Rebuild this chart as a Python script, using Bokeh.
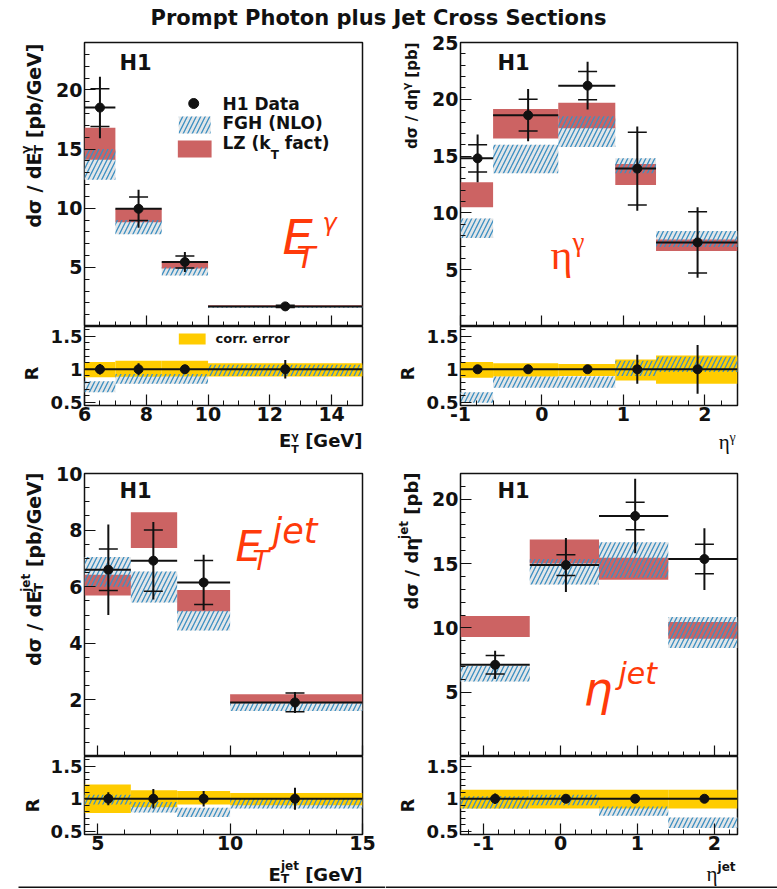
import math
import numpy as np
from bokeh.plotting import figure
from bokeh.models import (Range1d, LinearAxis, FixedTicker, Label, Span, ColumnDataSource,
                          CustomLabelingPolicy, BoxAnnotation)
from bokeh.layouts import column, row
from bokeh.embed import file_html
from bokeh.resources import INLINE

FONT = "DejaVu Sans"
SERIF = "Liberation Serif"
INK = "#111111"
LZ_FILL = "#cc6363"
FGH_LINE = "#3b8fc2"
FGH_BG = "#e3e6e8"
CORR_FILL = "#ffcc00"
TAG_RED = "#ff3a0a"

# ---------------- E_T^gamma ----------------
etg_edges = [6.0, 7.0, 8.5, 10.0, 15.0]
etg_x = [6.5, 7.75, 9.25, 12.5]
etg_val = [18.5, 9.95, 5.45, 1.7]
etg_stat = [1.6, 1.0, 0.5, 0.1]
etg_tot = [2.6, 1.6, 0.85, 0.18]
etg_fgh_lo = [12.4, 7.8, 4.3, 1.58]
etg_fgh_hi = [15.0, 9.0, 5.0, 1.72]
etg_lz_lo = [14.1, 8.8, 4.9, 1.65]
etg_lz_hi = [16.8, 9.95, 5.4, 1.8]
etg_r_corr_lo = [0.88, 0.885, 0.89, 0.89]
etg_r_corr_hi = [1.11, 1.13, 1.13, 1.09]
etg_r_fgh_lo = [0.65, 0.78, 0.78, 0.9]
etg_r_fgh_hi = [0.82, 0.93, 0.93, 1.07]
etg_r_err = [0.08, 0.09, 0.07, 0.14]

# ---------------- eta^gamma ----------------
etag_edges = [-1.0, -0.6, 0.2, 0.9, 1.4, 2.4]
etag_x = [-0.79, -0.17, 0.56, 1.17, 1.91]
etag_val = [14.8, 18.6, 21.2, 13.9, 7.4]
etag_stat = [1.2, 1.4, 1.25, 3.2, 2.7]
etag_tot = [2.1, 2.3, 2.1, 3.7, 3.1]
etag_fgh_lo = [7.8, 13.5, 15.8, 13.5, 7.0]
etag_fgh_hi = [9.5, 16.0, 18.5, 14.8, 8.4]
etag_lz_lo = [10.5, 16.55, 17.45, 12.45, 6.65]
etag_lz_hi = [12.7, 19.15, 19.7, 14.3, 7.65]
etag_r_corr_lo = [0.87, 0.89, 0.9, 0.83, 0.78]
etag_r_corr_hi = [1.11, 1.09, 1.08, 1.15, 1.21]
etag_r_fgh_lo = [0.49, 0.72, 0.72, 0.9, 0.96]
etag_r_fgh_hi = [0.65, 0.89, 0.89, 1.13, 1.19]
etag_r_err = [0.06, 0.06, 0.03, 0.22, 0.37]

# ---------------- E_T^jet ----------------
etj_edges = [4.5, 6.25, 8.0, 10.0, 15.0]
etj_x = [5.4, 7.1, 9.0, 12.45]
etj_val = [6.6, 6.92, 6.15, 1.91]
etj_stat = [0.73, 1.08, 0.78, 0.33]
etj_tot = [1.6, 1.37, 0.98, 0.37]
etj_fgh_lo = [6.0, 5.44, 4.45, 1.61]
etj_fgh_hi = [7.05, 6.54, 5.15, 1.88]
etj_lz_lo = [5.69, 7.37, 5.13, 1.88]
etj_lz_hi = [6.42, 8.63, 5.88, 2.2]
etj_r_corr_lo = [0.78, 0.87, 0.91, 0.9]
etj_r_corr_hi = [1.22, 1.13, 1.12, 1.09]
etj_r_fgh_lo = [0.91, 0.79, 0.72, 0.85]
etj_r_fgh_hi = [1.06, 0.95, 0.86, 1.0]
etj_r_err = [0.1, 0.15, 0.12, 0.17]

# ---------------- eta^jet ----------------
etaj_edges = [-1.3, -0.4, 0.5, 1.4, 2.3]
etaj_x = [-0.85, 0.07, 0.97, 1.87]
etaj_val = [7.13, 14.88, 18.7, 15.35]
etaj_stat = [0.72, 0.8, 1.07, 1.15]
etaj_tot = [1.1, 2.1, 2.9, 2.4]
etaj_fgh_lo = [5.84, 13.37, 13.9, 8.43]
etaj_fgh_hi = [7.05, 15.35, 16.65, 10.85]
etaj_lz_lo = [9.29, 15.0, 13.75, 9.16]
etaj_lz_hi = [10.93, 16.87, 15.45, 10.46]
etaj_r_corr_lo = [0.85, 0.85, 0.85, 0.85]
etaj_r_corr_hi = [1.14, 1.14, 1.14, 1.14]
etaj_r_fgh_lo = [0.85, 0.9, 0.74, 0.55]
etaj_r_fgh_hi = [1.04, 1.06, 0.88, 0.71]
etaj_r_err = [0.08, 0.03, 0.02, 0.03]

# approximate advance widths (em) used to chain sub/superscript pieces
BOLD_W = {' ': .348, '[': .457, ']': .457, '(': .457, ')': .457, '/': .365, '.': .380,
          'a': .675, 'b': .716, 'c': .593, 'd': .716, 'e': .678, 'f': .435, 'j': .343,
          'k': .665, 'n': .712, 'o': .687, 'p': .716, 'r': .493, 't': .478, 's': .595,
          'l': .343, 'i': .343, 'D': .830, 'E': .683, 'F': .683, 'G': .821, 'H': .837,
          'L': .637, 'N': .837, 'O': .850, 'R': .770, 'T': .682, 'V': .774, 'Z': .725,
          '1': .696, 'σ': .716, 'η': .712, 'γ': .652}
SERIF_W = {'η': .52, 'γ': .42}
MID = 0.35  # distance from baseline to the text's middle line, in em


def tw(s, size, font=FONT):
    table = SERIF_W if font == SERIF else BOLD_W
    return sum(table.get(c, .62) for c in s) * size


def ticks(a, b, step):
    return [round(v, 6) for v in np.arange(a, b + step / 2, step)]


HIDE_LABELS = CustomLabelingPolicy(code="for (const i of indices) { indices.unset(i) }\nreturn indices")


def style_axis(ax, show_labels=True, standoff=2, size=19):
    ax.axis_line_color = None
    ax.major_tick_in = 11
    ax.major_tick_out = 0
    ax.minor_tick_in = 5
    ax.minor_tick_out = 0
    ax.major_tick_line_color = INK
    ax.minor_tick_line_color = INK
    ax.major_tick_line_width = 1.2
    ax.minor_tick_line_width = 1
    ax.major_label_text_font = FONT
    ax.major_label_text_font_style = "bold"
    ax.major_label_text_color = INK
    if show_labels:
        ax.major_label_text_font_size = f"{size}px"
        ax.major_label_standoff = standoff
    else:
        ax.major_label_text_font_size = "0px"
        ax.major_label_standoff = 0
        ax.major_label_policy = HIDE_LABELS


def bare(width, height):
    f = figure(width=width, height=height, x_range=Range1d(0, width), y_range=Range1d(0, height),
               x_axis_type=None, y_axis_type=None, output_backend="svg",
               toolbar_location=None, min_border=0)
    f.outline_line_color = None
    return f


def panel(width, height, borders, xr, yr, xt, yt, x_labels, ylab_size=19):
    left, right, top, bottom = borders
    p = figure(width=width, height=height, x_range=Range1d(*xr), y_range=Range1d(*yr),
               x_axis_type=None, y_axis_type=None, output_backend="svg",
               toolbar_location=None, min_border_left=left, min_border_right=right,
               min_border_top=top, min_border_bottom=bottom)
    p.outline_line_color = INK
    p.outline_line_width = 1.5
    p.border_fill_color = "white"
    xa = LinearAxis(ticker=FixedTicker(ticks=xt[0], minor_ticks=xt[1]))
    style_axis(xa, show_labels=x_labels, standoff=1)
    xa.major_label_overrides = {t: f"{t:g}" for t in xt[0]}
    p.add_layout(xa, "below")
    ya = LinearAxis(ticker=FixedTicker(ticks=yt[0], minor_ticks=yt[1]))
    style_axis(ya, standoff=2, size=ylab_size)
    ya.major_label_overrides = {t: f"{t:g}" for t in yt[0]}
    p.add_layout(ya, "left")
    return p


def tag(p, text, px, py, size, color=INK, style="bold", font=FONT, rot=False,
        align="left", mid=False):
    """Text at (px, py) pixels from the frame's top-left corner; (px, py) is on the
    baseline unless mid=True."""
    if not mid:
        if rot:
            px -= MID * size
        else:
            py -= MID * size
    p.add_layout(Label(x=p.x_range.start, y=p.y_range.end, x_offset=px, y_offset=-py,
                       text=text, text_font=font, text_font_size=f"{size:g}px",
                       text_font_style=style, text_color=color,
                       angle=math.pi / 2 if rot else 0.0,
                       text_align=align, text_baseline="middle"))


def piece(t, size, rise=0, font=FONT, style="bold"):
    return (t, size, rise, font, style)


def _advances(groups):
    return [max(tw(t, s, f) for t, s, r, f, st in g) for g in groups]


def htitle(p, groups, right_px, base_py):
    adv = _advances(groups)
    pos = right_px - sum(adv)
    for g, a in zip(groups, adv):
        for t, s, r, f, st in g:
            lead = tw(t[:len(t) - len(t.lstrip())], s, f)
            tag(p, t.strip(), pos + lead, base_py - r, s, style=st, font=f)
        pos += a


def vtitle(p, groups, base_px, top_py):
    adv = _advances(groups)
    pos = top_py + sum(adv)
    for g, a in zip(groups, adv):
        for t, s, r, f, st in g:
            lead = tw(t[:len(t) - len(t.lstrip())], s, f)
            tag(p, t.strip(), base_px - r, pos - lead, s, style=st, font=f, rot=True)
        pos -= a


def to_data(p, px, py, fw, fh):
    xr, yr = p.x_range, p.y_range
    return (xr.start + px / fw * (xr.end - xr.start), yr.end - py / fh * (yr.end - yr.start))


def draw_main(p, edges, xc, val, stat, tot, fgh_lo, fgh_hi, lz_lo, lz_hi):
    src = ColumnDataSource(dict(
        left=edges[:-1], right=edges[1:], x=xc, y=val,
        fl=fgh_lo, fh=fgh_hi, ll=lz_lo, lh=lz_hi,
        tlo=[v - e for v, e in zip(val, tot)], thi=[v + e for v, e in zip(val, tot)],
        slo=[v - e for v, e in zip(val, stat)], shi=[v + e for v, e in zip(val, stat)]))
    p.quad(left="left", right="right", bottom="fl", top="fh", source=src,
           fill_color=FGH_BG, line_color=None)
    p.quad(left="left", right="right", bottom="ll", top="lh", source=src,
           fill_color=LZ_FILL, line_color=None)
    p.quad(left="left", right="right", bottom="fl", top="fh", source=src,
           fill_alpha=0, line_color=None, hatch_pattern="/", hatch_color=FGH_LINE,
           hatch_scale=9, hatch_weight=1.3)
    p.segment(x0="left", x1="right", y0="y", y1="y", source=src, line_color=INK, line_width=2)
    p.segment(x0="x", x1="x", y0="tlo", y1="thi", source=src, line_color=INK, line_width=2)
    p.scatter(x="x", y="slo", source=src, marker="dash", size=19, line_color=INK, line_width=1.5)
    p.scatter(x="x", y="shi", source=src, marker="dash", size=19, line_color=INK, line_width=1.5)
    p.scatter(x="x", y="y", source=src, size=9, fill_color=INK, line_color=INK)


def draw_ratio(p, edges, xc, corr_lo, corr_hi, fgh_lo, fgh_hi, err):
    src = ColumnDataSource(dict(
        left=edges[:-1], right=edges[1:], x=xc, one=[1.0] * len(xc),
        cl=corr_lo, ch=corr_hi, fl=fgh_lo, fh=fgh_hi,
        elo=[1 - e for e in err], ehi=[1 + e for e in err]))
    p.quad(left="left", right="right", bottom="fl", top="fh", source=src,
           fill_color=FGH_BG, line_color=None)
    p.quad(left="left", right="right", bottom="cl", top="ch", source=src,
           fill_color=CORR_FILL, line_color=None)
    p.quad(left="left", right="right", bottom="fl", top="fh", source=src,
           fill_alpha=0, line_color=None, hatch_pattern="/", hatch_color=FGH_LINE,
           hatch_scale=9, hatch_weight=1.3)
    p.add_layout(Span(location=1.0, dimension="width", line_color=INK, line_width=2))
    p.segment(x0="x", x1="x", y0="elo", y1="ehi", source=src, line_color=INK, line_width=2)
    p.scatter(x="x", y="one", source=src, size=9, fill_color=INK, line_color=INK)


# ---- geometry (pixels) ----
LCOL, RCOL = 385, 392
LSTRIP, RSTRIP = 47, 38
LPW, RPW = LCOL - LSTRIP, RCOL - RSTRIP
LB, RB = (35, 23), (35, 40)
LFW, RFW = 280, 279
TM_H, TM_FH = 296, 284
TR_H, TR_FH = 103, 79
BM_H, BM_FH = 295, 283
BR_H, BR_FH = 102, 78
TX_H, BX_H = 32, 30

ratio_yt = ([0.5, 1.0, 1.5], ticks(0.5, 1.6, 0.1))
ratio_yr = (0.45, 1.65)

# ---- top-left: E_T^gamma ----
xt = ([6, 8, 10, 12, 14], ticks(6, 15, 0.5))
p1 = panel(LPW, TM_H, (LB[0], LB[1], 12, 0), (6, 15), (0, 24), xt,
           ([5, 10, 15, 20], ticks(1, 23, 1)), False)
draw_main(p1, etg_edges, etg_x, etg_val, etg_stat, etg_tot, etg_fgh_lo, etg_fgh_hi,
          etg_lz_lo, etg_lz_hi)
tag(p1, "H1", 35, 28, 21)
# legend
dx, dy = to_data(p1, 110, 61, LFW, TM_FH)
p1.scatter(x=[dx], y=[dy], size=10, fill_color=INK, line_color=INK)
fx0, fy0 = to_data(p1, 95, 74, LFW, TM_FH)
fx1, fy1 = to_data(p1, 127, 91, LFW, TM_FH)
p1.quad(left=[fx0], right=[fx1], top=[fy0], bottom=[fy1], fill_color=FGH_BG, line_color=None,
        hatch_pattern="/", hatch_color=FGH_LINE, hatch_scale=9, hatch_weight=1.3)
rx0, ry0 = to_data(p1, 94, 98, LFW, TM_FH)
rx1, ry1 = to_data(p1, 128, 115, LFW, TM_FH)
p1.quad(left=[rx0], right=[rx1], top=[ry0], bottom=[ry1], fill_color=LZ_FILL, line_color=None)
tag(p1, "H1 Data", 138, 61.5, 17, mid=True)
tag(p1, "FGH (NLO)", 138, 80.5, 17, mid=True)
tag(p1, "LZ (k", 138, 100.5, 17, mid=True)
kx = 138 + tw("LZ (k", 17)
tag(p1, "T", kx, 112, 12, mid=True)
tag(p1, "fact)", kx + tw("T", 12) + tw(" ", 17), 100.5, 17, mid=True)
tag(p1, "E", 198, 194.5, 48, color=TAG_RED, style="italic", mid=True)
tag(p1, "T", 212, 214, 31, color=TAG_RED, style="italic", mid=True)
tag(p1, "γ", 238, 180, 24, color=TAG_RED, style="italic", mid=True)

r1 = panel(LPW, TR_H, (LB[0], LB[1], 0, 24), (6, 15), ratio_yr, xt, ratio_yt, True, 18)
draw_ratio(r1, etg_edges, etg_x, etg_r_corr_lo, etg_r_corr_hi, etg_r_fgh_lo, etg_r_fgh_hi,
           etg_r_err)
cx0, cy0 = to_data(r1, 95, 7, LFW, TR_FH)
cx1, cy1 = to_data(r1, 122, 18, LFW, TR_FH)
r1.quad(left=[cx0], right=[cx1], top=[cy0], bottom=[cy1], fill_color=CORR_FILL, line_color=None)
tag(r1, "corr. error", 131, 12, 13, mid=True)

ys1 = bare(LSTRIP, TM_H + TR_H)
vtitle(ys1, [[piece("dσ / dE", 19)], [piece("T", 13, -3), piece("γ", 12, 10)],
             [piece(" [pb/GeV]", 19)]], 40, 13)
tag(ys1, "R", 37, 343, 18, rot=True, align="center")
xs1 = bare(LCOL, TX_H)
htitle(xs1, [[piece("E", 18)], [piece("T", 11, -7), piece("γ", 11, 6)], [piece(" [GeV]", 18)]],
       362, 17)

# ---- top-right: eta^gamma ----
xt = ([-1, 0, 1, 2], ticks(-1, 2.4, 0.2))
p2 = panel(RPW, TM_H, (RB[0], RB[1], 12, 0), (-1, 2.4), (0, 25), xt,
           ([5, 10, 15, 20, 25], ticks(1, 24, 1)), False)
draw_main(p2, etag_edges, etag_x, etag_val, etag_stat, etag_tot, etag_fgh_lo, etag_fgh_hi,
          etag_lz_lo, etag_lz_hi)
tag(p2, "H1", 37, 28, 21)
tag(p2, "η", 90, 212, 42, color=TAG_RED, style="normal", font=SERIF, mid=True)
tag(p2, "γ", 112, 199, 27, color=TAG_RED, style="normal", font=SERIF, mid=True)

r2 = panel(RPW, TR_H, (RB[0], RB[1], 0, 24), (-1, 2.4), ratio_yr, xt, ratio_yt, True, 18)
draw_ratio(r2, etag_edges, etag_x, etag_r_corr_lo, etag_r_corr_hi, etag_r_fgh_lo,
           etag_r_fgh_hi, etag_r_err)

ys2 = bare(RSTRIP, TM_H + TR_H)
vtitle(ys2, [[piece("dσ / dη", 15)], [piece("γ", 11, 7)], [piece(" [pb]", 15)]], 32, 12)
tag(ys2, "R", 28, 343, 18, rot=True, align="center")
xs2 = bare(RCOL, TX_H)
htitle(xs2, [[piece("η", 21, 0, SERIF, "normal")], [piece("γ", 14, 7, SERIF, "normal")]],
       350, 20)

# ---- bottom-left: E_T^jet ----
xt = ([5, 10, 15], ticks(5, 15, 1))
p3 = panel(LPW, BM_H, (LB[0], LB[1], 12, 0), (4.5, 15), (0, 10), xt,
           ([2, 4, 6, 8, 10], ticks(0.5, 9.5, 0.5)), False)
draw_main(p3, etj_edges, etj_x, etj_val, etj_stat, etj_tot, etj_fgh_lo, etj_fgh_hi,
          etj_lz_lo, etj_lz_hi)
tag(p3, "H1", 35, 25, 21)
tag(p3, "E", 151, 73, 42, color=TAG_RED, style="italic", mid=True)
tag(p3, "T", 168, 87, 27, color=TAG_RED, style="italic", mid=True)
tag(p3, "jet", 188, 57, 35, color=TAG_RED, style="italic", mid=True)

r3 = panel(LPW, BR_H, (LB[0], LB[1], 0, 24), (4.5, 15), ratio_yr, xt, ratio_yt, True, 18)
draw_ratio(r3, etj_edges, etj_x, etj_r_corr_lo, etj_r_corr_hi, etj_r_fgh_lo, etj_r_fgh_hi,
           etj_r_err)

ys3 = bare(LSTRIP, BM_H + BR_H)
vtitle(ys3, [[piece("dσ / dE", 19)], [piece("T", 13, -3), piece("jet", 12, 10)],
             [piece(" [pb/GeV]", 19)]], 40, 11)
tag(ys3, "R", 38, 344, 18, rot=True, align="center")
xs3 = bare(LCOL, BX_H)
htitle(xs3, [[piece("E", 18)], [piece("T", 12, -3), piece("jet", 12, 10)],
             [piece(" [GeV]", 18)]], 362, 22)
xs3.add_layout(BoxAnnotation(left=18, bottom=0, top=2, fill_color=INK, fill_alpha=1,
                             line_color=None))

# ---- bottom-right: eta^jet ----
xt = ([-1, 0, 1, 2], ticks(-1.2, 2.2, 0.2))
p4 = panel(RPW, BM_H, (RB[0], RB[1], 12, 0), (-1.3, 2.3), (0, 22), xt,
           ([5, 10, 15, 20], ticks(1, 21, 1)), False)
draw_main(p4, etaj_edges, etaj_x, etaj_val, etaj_stat, etaj_tot, etaj_fgh_lo, etaj_fgh_hi,
          etaj_lz_lo, etaj_lz_hi)
tag(p4, "H1", 37, 25, 21)
tag(p4, "η", 123, 215, 46, color=TAG_RED, style="italic", mid=True)
tag(p4, "jet", 158, 200, 30, color=TAG_RED, style="italic", mid=True)

r4 = panel(RPW, BR_H, (RB[0], RB[1], 0, 24), (-1.3, 2.3), ratio_yr, xt, ratio_yt, True, 18)
draw_ratio(r4, etaj_edges, etaj_x, etaj_r_corr_lo, etaj_r_corr_hi, etaj_r_fgh_lo,
           etaj_r_fgh_hi, etaj_r_err)

ys4 = bare(RSTRIP, BM_H + BR_H)
vtitle(ys4, [[piece("dσ / dη", 18)], [piece("jet", 12, 9)], [piece(" [pb]", 18)]], 32, 11)
tag(ys4, "R", 28, 344, 18, rot=True, align="center")
xs4 = bare(RCOL, BX_H)
htitle(xs4, [[piece("η", 21, 0, SERIF, "normal")], [piece("jet", 12, 10)]], 350, 23)
xs4.add_layout(BoxAnnotation(bottom=0, top=2, fill_color=INK, fill_alpha=1, line_color=None))

# ---- page title ----
head = bare(777, 30)
tag(head, "Prompt Photon plus Jet Cross Sections", 378, 25, 21, align="center")

layout = column(
    head,
    row(column(row(ys1, column(p1, r1)), xs1), column(row(ys2, column(p2, r2)), xs2)),
    row(column(row(ys3, column(p3, r3)), xs3), column(row(ys4, column(p4, r4)), xs4)),
)

open("out.html", "w").write(file_html(layout, INLINE))
